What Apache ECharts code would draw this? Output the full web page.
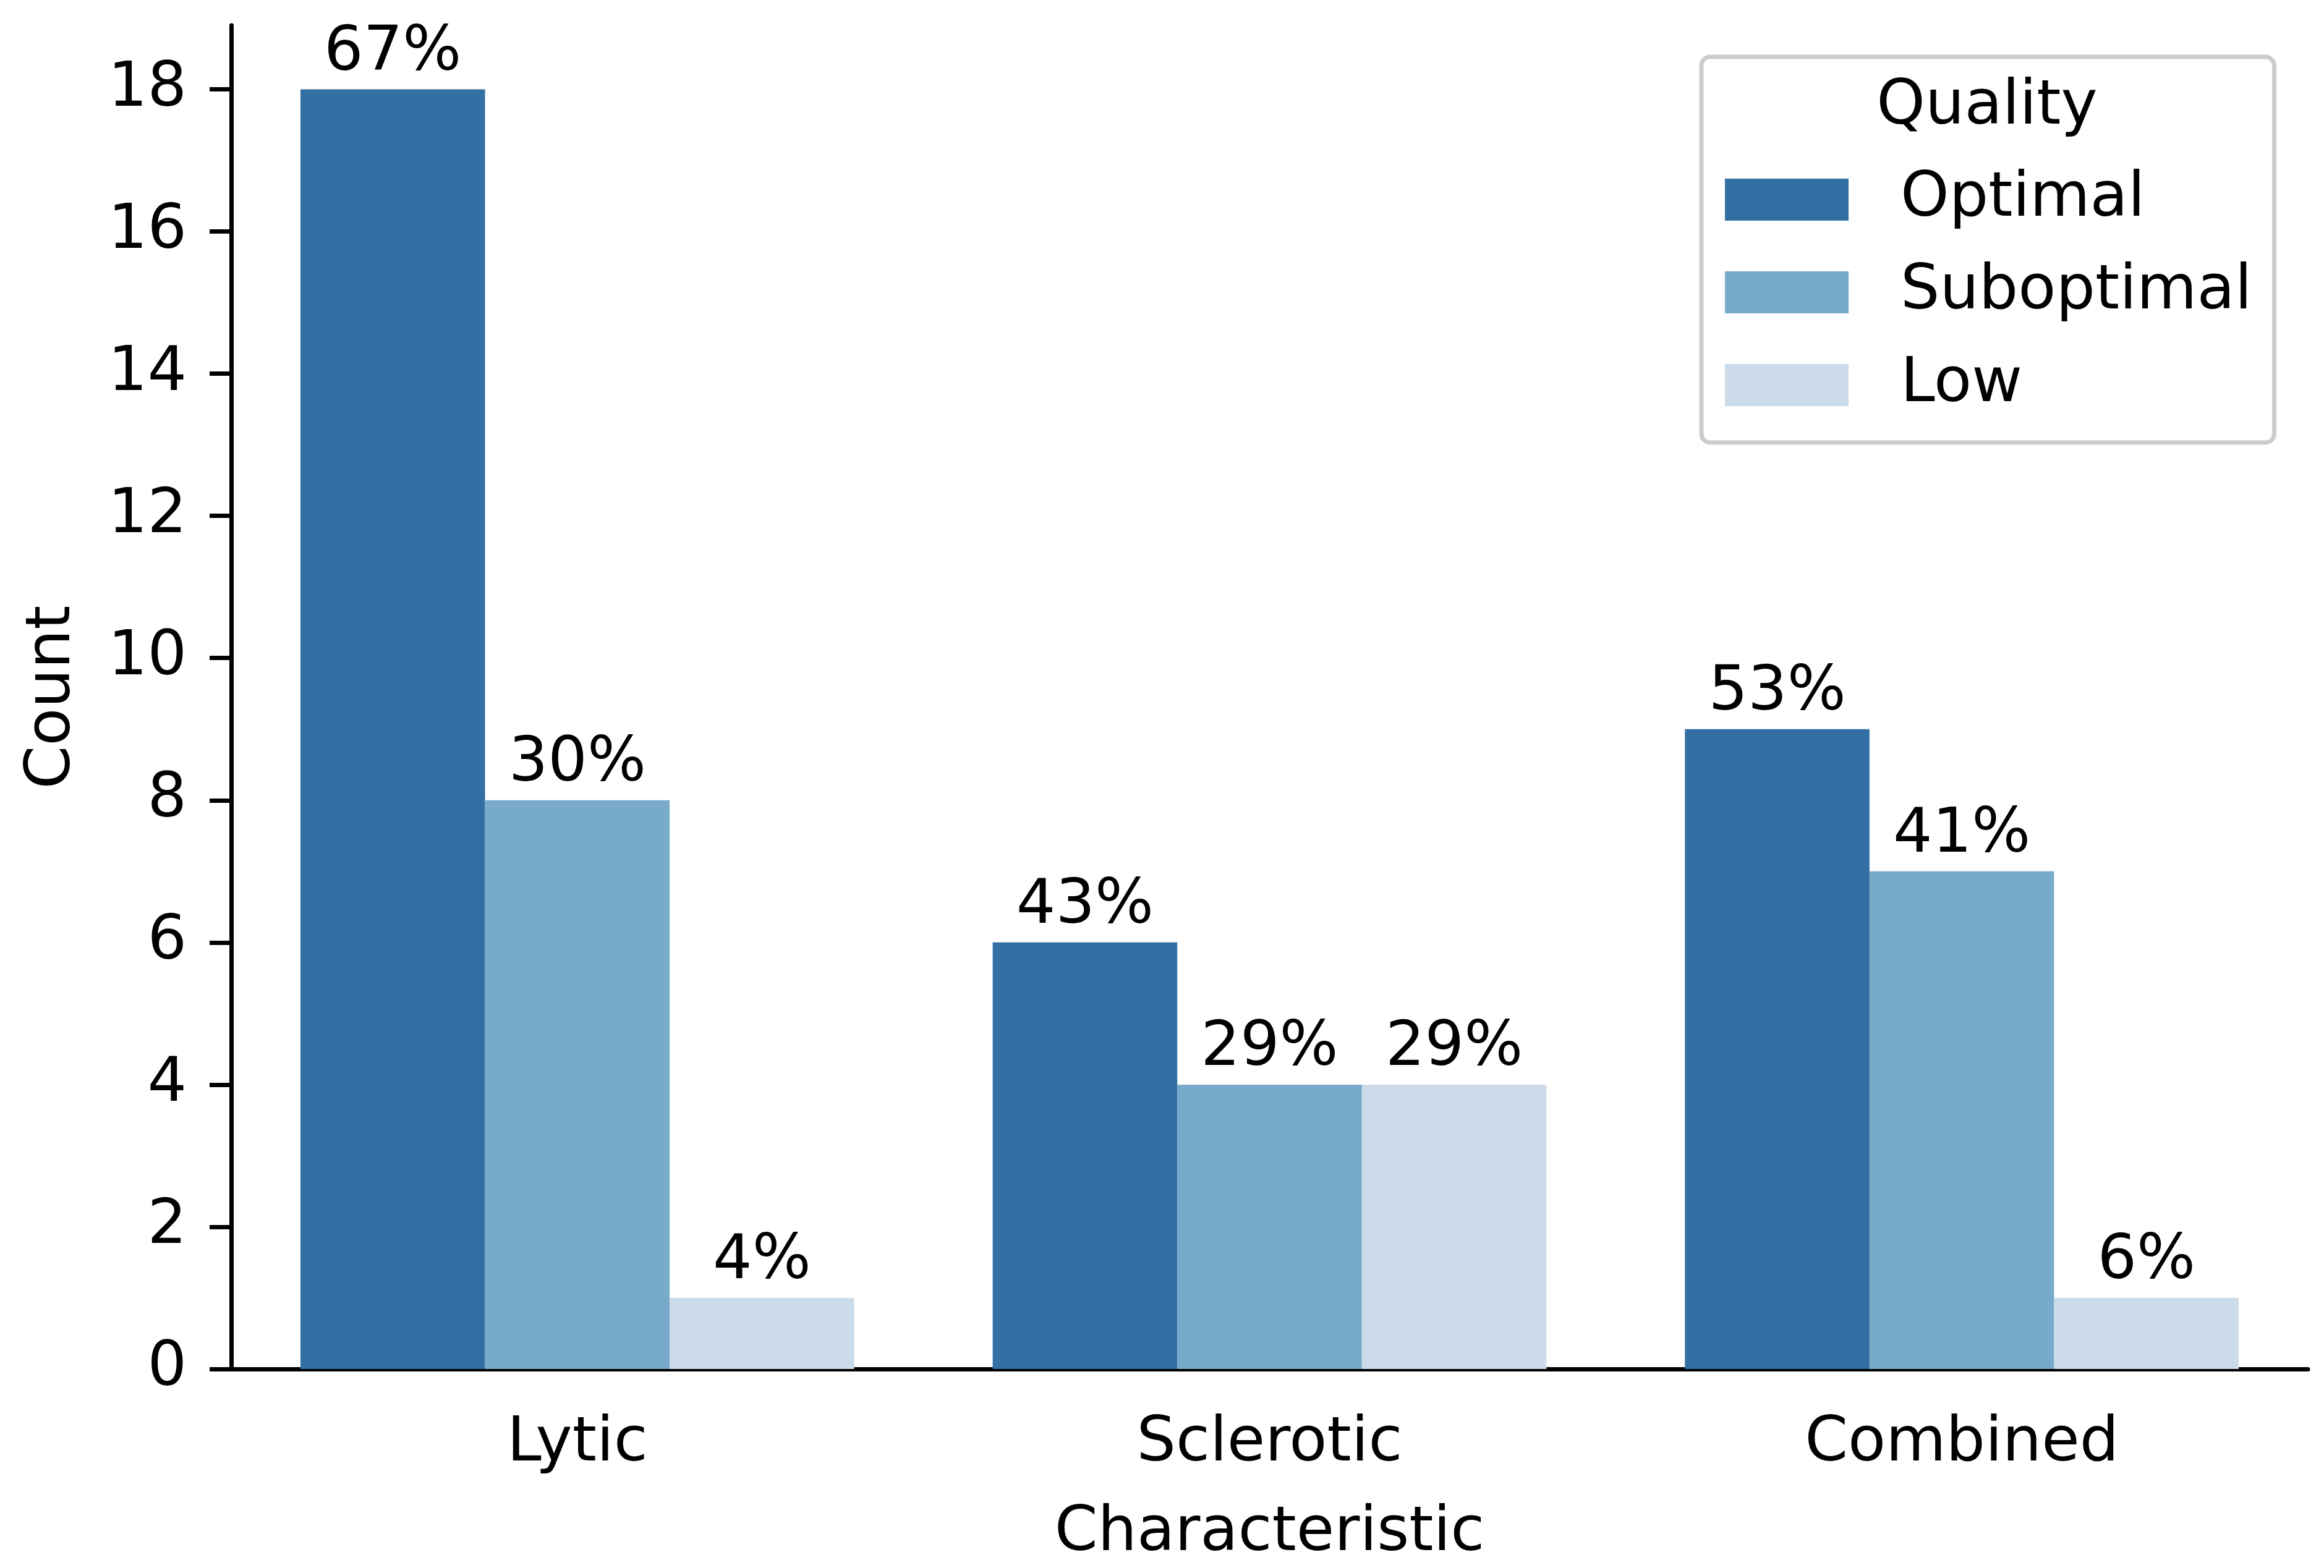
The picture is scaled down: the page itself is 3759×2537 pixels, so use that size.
<!DOCTYPE html>
<html>
<head>
<meta charset="utf-8">
<script src="https://cdn.jsdelivr.net/npm/echarts@6/dist/echarts.min.js"></script>
<style>html,body{margin:0;padding:0;background:#fff}#c{width:3759px;height:2537px}</style>
</head>
<body>
<div id="c"></div>
<script>
const categories = ['Lytic', 'Sclerotic', 'Combined'];
const qualities = ['Optimal', 'Suboptimal', 'Low'];
const optimal = [18, 6, 9];
const suboptimal = [8, 4, 7];
const low = [1, 4, 1];
const pctOptimal = ['67%', '43%', '53%'];
const pctSuboptimal = ['30%', '29%', '41%'];
const pctLow = ['4%', '29%', '6%'];
const yTicks = [0, 2, 4, 6, 8, 10, 12, 14, 16, 18];
const colors = ['#336fa3', '#78abc9', '#cbdbea'];

const FONT = 'DejaVu Sans';
const FS = 100;
const seriesData = [optimal, suboptimal, low];
const pctData = [pctOptimal, pctSuboptimal, pctLow];

const chart = echarts.init(document.getElementById('c'), null, {renderer: 'canvas'});
chart.setOption({
  animation: false,
  backgroundColor: '#ffffff',
  textStyle: {fontFamily: FONT},
  grid: {left: 374, right: 26, top: 41, bottom: 317, containLabel: false},
  xAxis: {
    type: 'category',
    data: categories,
    name: 'Characteristic',
    nameLocation: 'middle',
    nameGap: 217,
    nameTextStyle: {fontFamily: FONT, fontSize: FS, color: '#000'},
    axisLine: {lineStyle: {color: '#000', width: 7}},
    axisTick: {alignWithLabel: true, length: 35, lineStyle: {color: '#000', width: 7}},
    axisLabel: {fontFamily: FONT, fontSize: FS, color: '#000', margin: 72},
    splitLine: {show: false}
  },
  yAxis: {
    type: 'value',
    min: 0,
    max: 18.9,
    name: 'Count',
    nameLocation: 'middle',
    nameGap: 238,
    nameTextStyle: {fontFamily: FONT, fontSize: FS, color: '#000'},
    axisLine: {show: true, lineStyle: {color: '#000', width: 7}},
    axisTick: {show: true, length: 35, customValues: yTicks, lineStyle: {color: '#000', width: 7}},
    axisLabel: {fontFamily: FONT, fontSize: FS, color: '#000', margin: 72, customValues: yTicks},
    splitLine: {show: false}
  },
  legend: {
    data: qualities,
    orient: 'vertical',
    left: 2752,
    top: 92,
    padding: [181, 36, 43, 38],
    icon: 'rect',
    itemWidth: 200,
    itemHeight: 68,
    itemGap: 50,
    borderColor: '#cccccc',
    borderWidth: 7,
    borderRadius: 14,
    backgroundColor: 'rgba(255,255,255,0.8)',
    textStyle: {fontFamily: FONT, fontSize: FS, color: '#000', padding: [0, 0, 0, 79]}
  },
  graphic: [{
    type: 'text',
    z: 100,
    style: {text: 'Quality', x: 3214, y: 174, align: 'center', verticalAlign: 'middle', fontFamily: FONT, fontSize: FS, fill: '#000'}
  }],
  series: qualities.map((q, i) => ({
    name: q,
    type: 'bar',
    data: seriesData[i],
    barGap: '0%',
    barCategoryGap: '20%',
    itemStyle: {color: colors[i]},
    label: {
      show: true,
      position: 'top',
      distance: 8,
      fontFamily: FONT,
      fontSize: FS,
      color: '#000',
      formatter: p => pctData[i][p.dataIndex]
    }
  }))
});
</script>
</body>
</html>
